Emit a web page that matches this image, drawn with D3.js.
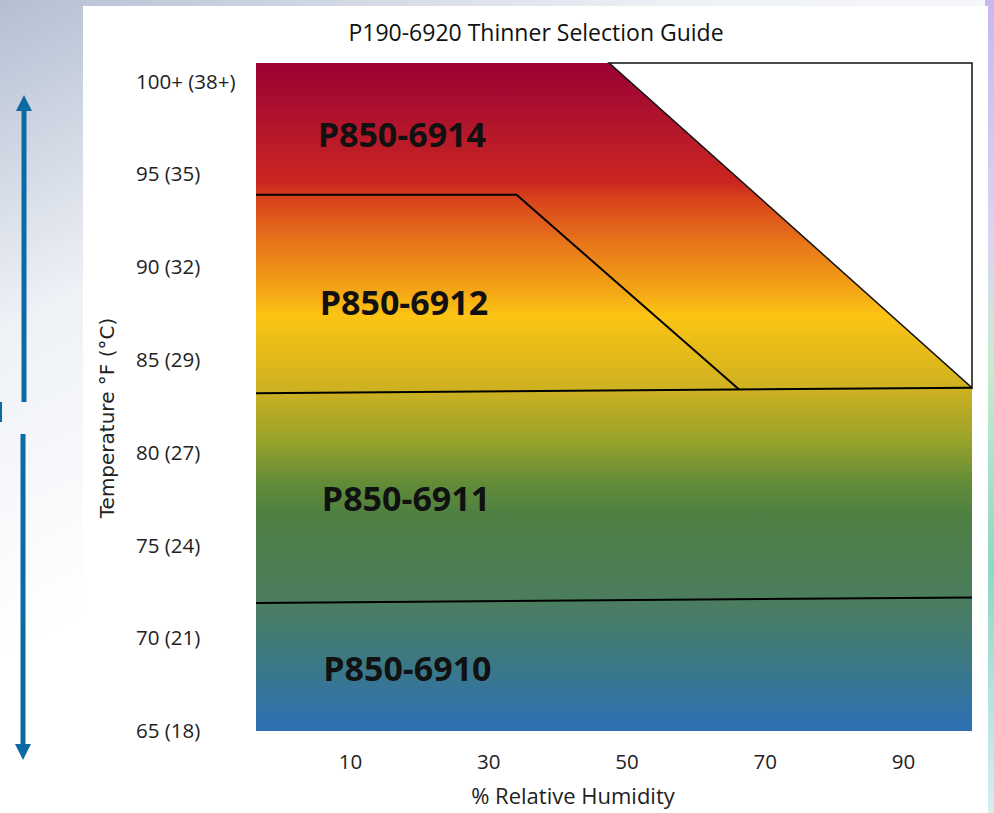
<!DOCTYPE html>
<html>
<head>
<meta charset="utf-8">
<script src="https://cdn.jsdelivr.net/npm/d3@7"></script>
<style>
  body { margin: 0; overflow: hidden; }
  svg { display: block; }
</style>
</head>
<body>
<div id="plot"></div>
<script>
// Temperature ticks (°F) and their labels
var tempTicks = [65, 70, 75, 80, 85, 90, 95, 100];
var tempLabels = ["65 (18)", "70 (21)", "75 (24)", "80 (27)", "85 (29)", "90 (32)", "95 (35)", "100+ (38+)"];
// Humidity ticks
var humidityTicks = [10, 30, 50, 70, 90];

// Boundaries between thinner zones, [humidity, temperature]
var line6910 = [[-3.6, 71.9], [100, 72.2]];
var line6911 = [[-3.6, 83.2], [100, 83.5]];
var line6912 = [[-3.6, 93.9], [34.1, 93.9], [66.3, 83.4]];
// region outside the guide (white triangle)
var noZone = [[47.5, 101], [100, 101], [100, 83.5]];

// zone labels and where they sit
var zoneNames = ["P850-6914", "P850-6912", "P850-6911", "P850-6910"];
var zoneHum = [17.5, 17.8, 18.1, 18.3];
var zoneTemp = [97.2, 88.1, 77.55, 68.4];

var W = 994, H = 813;
var margin = {top: 63, right: 22, bottom: 82, left: 256};

var svg = d3.select("#plot").append("svg")
    .attr("width", W)
    .attr("height", H);

var defs = svg.append("defs");

// page background (slide behind the chart)
var bg = defs.append("linearGradient").attr("id", "bg")
    .attr("x1", 0).attr("y1", 0).attr("x2", 0.35).attr("y2", 0.6);
bg.append("stop").attr("offset", 0).attr("stop-color", "#b4bfd2");
bg.append("stop").attr("offset", 0.5).attr("stop-color", "#eef1f6");
bg.append("stop").attr("offset", 1).attr("stop-color", "#ffffff");
svg.append("rect").attr("width", W).attr("height", H).attr("fill", "url(#bg)");

var rightEdge = defs.append("linearGradient").attr("id", "rightEdge")
    .attr("x1", 0).attr("y1", 0).attr("x2", 0).attr("y2", 1);
rightEdge.append("stop").attr("offset", 0).attr("stop-color", "#c9b8f0");
rightEdge.append("stop").attr("offset", 0.3).attr("stop-color", "#d8d6f2");
rightEdge.append("stop").attr("offset", 0.45).attr("stop-color", "#c7ecd0");
rightEdge.append("stop").attr("offset", 0.7).attr("stop-color", "#8fd6c6");
rightEdge.append("stop").attr("offset", 1).attr("stop-color", "#d6eef0");
svg.append("rect").attr("x", 985).attr("y", 0).attr("width", 9).attr("height", H)
    .attr("fill", "url(#rightEdge)");

// white chart panel
svg.append("rect")
    .attr("x", 83).attr("y", 6)
    .attr("width", 905).attr("height", H)
    .attr("fill", "#ffffff");

// blue arrow on the slide
var arrowCol = "#0d6ba3";
svg.append("line").attr("x1", 24).attr("x2", 24).attr("y1", 108).attr("y2", 402)
    .attr("stroke", arrowCol).attr("stroke-width", 5);
svg.append("line").attr("x1", 23).attr("x2", 23).attr("y1", 434).attr("y2", 745)
    .attr("stroke", arrowCol).attr("stroke-width", 5);
svg.append("path").attr("d", "M16,111 L24,95 L32,111 Z").attr("fill", arrowCol);
svg.append("path").attr("d", "M15,744 L23,760 L31,744 Z").attr("fill", arrowCol);
svg.append("rect").attr("x", 0).attr("y", 402).attr("width", 2).attr("height", 20).attr("fill", arrowCol);

var width = W - margin.left - margin.right,
    height = H - margin.top - margin.bottom;

var x = d3.scaleLinear().domain([-3.6, 100]).range([margin.left, margin.left + width]);
var y = d3.scaleLinear().domain([65, 101]).range([margin.top + height, margin.top]);

// vertical colour ramp for the zones
var ramp = defs.append("linearGradient").attr("id", "ramp")
    .attr("x1", 0).attr("y1", 0).attr("x2", 0).attr("y2", 1);
[[0, "#9b0033"], [0.10, "#b3172b"], [0.18, "#cc261f"], [0.2, "#d6401c"],
 [0.265, "#e7721a"], [0.34, "#f4a516"], [0.378, "#fcc414"], [0.49, "#cdb121"],
 [0.565, "#98a22a"], [0.632, "#608b38"], [0.677, "#4f8043"], [0.804, "#4b7d5e"],
 [0.879, "#3e7a7c"], [1, "#2d70b6"]].forEach(function(s) {
    ramp.append("stop").attr("offset", s[0]).attr("stop-color", s[1]);
});

svg.append("rect")
    .attr("x", x(-3.6)).attr("y", y(101))
    .attr("width", x(100) - x(-3.6))
    .attr("height", y(65) - y(101))
    .attr("fill", "url(#ramp)");

var line = d3.line()
    .x(function(d) { return x(d[0]); })
    .y(function(d) { return y(d[1]); });

// white area beyond the guide
svg.append("path")
    .attr("d", line(noZone) + "Z")
    .attr("fill", "#ffffff")
    .attr("stroke", "#111")
    .attr("stroke-width", 1.5);

// zone boundaries
[line6910, line6911, line6912].forEach(function(l) {
    svg.append("path")
        .attr("d", line(l))
        .attr("fill", "none")
        .attr("stroke", "#000")
        .attr("stroke-width", 2);
});

// zone labels
svg.append("g").selectAll("text")
    .data(zoneNames)
    .enter().append("text")
    .attr("x", function(d, i) { return x(zoneHum[i]); })
    .attr("y", function(d, i) { return y(zoneTemp[i]); })
    .attr("text-anchor", "middle")
    .attr("dominant-baseline", "central")
    .style("font-family", "'Open Sans', sans-serif")
    .style("font-weight", "700")
    .style("font-size", "34px")
    .style("fill", "#111")
    .text(function(d) { return d; });

// Y axis (labels only)
var yAxis = d3.axisLeft(y)
    .tickValues(tempTicks)
    .tickSize(0)
    .tickFormat(function(d, i) { return tempLabels[i]; });
var gy = svg.append("g")
    .attr("transform", "translate(136,0)")
    .call(yAxis);
gy.select(".domain").remove();
gy.selectAll("text")
    .attr("x", 0)
    .attr("dy", "0.32em")
    .attr("text-anchor", "start")
    .style("font-family", "'Open Sans', sans-serif")
    .style("font-size", "20.5px")
    .style("fill", "#222");

// X axis (labels only)
var xAxis = d3.axisBottom(x)
    .tickValues(humidityTicks)
    .tickSize(0);
var gx = svg.append("g")
    .attr("transform", "translate(0,754)")
    .call(xAxis);
gx.select(".domain").remove();
gx.selectAll("text")
    .attr("y", 0)
    .attr("dy", "0.71em")
    .style("font-family", "'Open Sans', sans-serif")
    .style("font-size", "20.5px")
    .style("fill", "#222");

// Title
svg.append("text")
    .attr("x", 536)
    .attr("y", 32)
    .attr("text-anchor", "middle")
    .attr("dominant-baseline", "central")
    .style("font-family", "'Open Sans', sans-serif")
    .style("font-size", "23px")
    .style("fill", "#111")
    .text("P190-6920 Thinner Selection Guide");

// axis titles
svg.append("text")
    .attr("x", 573)
    .attr("y", 795)
    .attr("text-anchor", "middle")
    .attr("dominant-baseline", "central")
    .style("font-family", "'Open Sans', sans-serif")
    .style("font-size", "22px")
    .style("fill", "#222")
    .text("% Relative Humidity");

svg.append("text")
    .attr("transform", "translate(107,418) rotate(-90)")
    .attr("text-anchor", "middle")
    .attr("dominant-baseline", "central")
    .style("font-family", "'DejaVu Sans', sans-serif")
    .style("font-size", "20px")
    .style("fill", "#222")
    .text("Temperature °F (°C)");
</script>
</body>
</html>
